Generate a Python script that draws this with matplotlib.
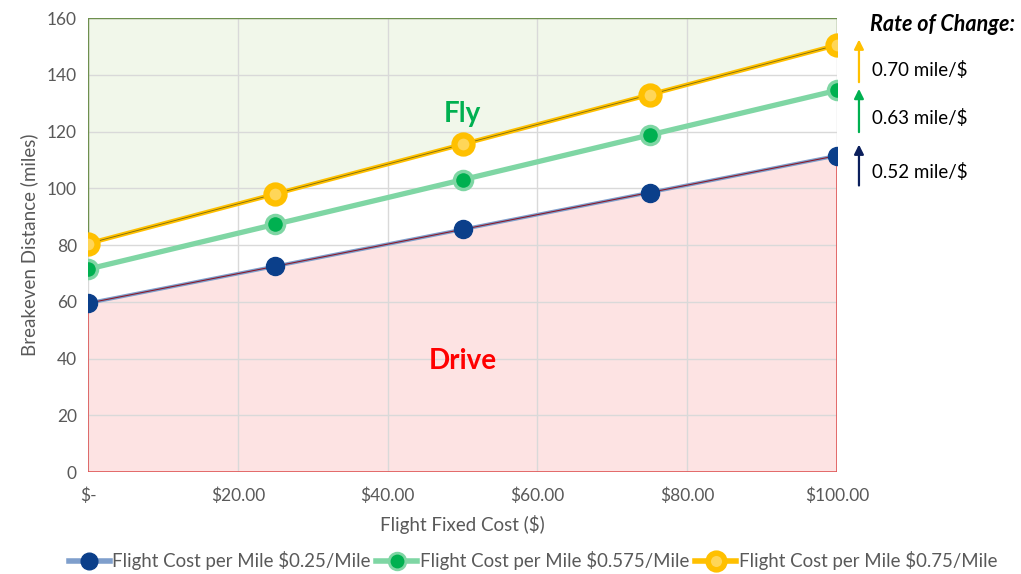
import matplotlib
matplotlib.use("Agg")
import matplotlib.pyplot as plt
import matplotlib.ticker as mticker
from matplotlib.lines import Line2D
from matplotlib.patches import FancyArrowPatch

# ── Data ─────────────────────────────────────────────
fixed_cost = [0, 25, 50, 75, 100]
dist_025 = [59.5, 72.5, 85.5, 98.5, 111.5]
dist_0575 = [71.5, 87.3, 103.0, 118.8, 134.5]
dist_075 = [80.5, 98.0, 115.5, 133.0, 150.5]

series_labels = [
    "Flight Cost per Mile $0.25/Mile",
    "Flight Cost per Mile $0.575/Mile",
    "Flight Cost per Mile $0.75/Mile",
]
rate_labels = ["0.52 mile/$", "0.63 mile/$", "0.70 mile/$"]
x_ticks = [0, 20, 40, 60, 80, 100]
y_ticks = [0, 20, 40, 60, 80, 100, 120, 140, 160]

# ── Style ────────────────────────────────────────────
TEXT_GRAY = "#595959"
GRID = "#D9D9D9"
BLUE_LINE, BLUE_MK = "#7F9FCC", "#0B3F8A"
GREEN_LINE, GREEN_MK = "#7FD6A4", "#00B050"
YELLOW = "#FFC000"
YELLOW_CORE = "#FFD658"

plt.rcParams["font.family"] = ["Lato", "DejaVu Sans"]

fig = plt.figure(figsize=(10.21, 5.74), dpi=100)
ax = fig.add_axes([0.0862, 0.1777, 0.7336, 0.7909])

# Region shading (grid stays visible on top)
ax.fill_between(fixed_cost, dist_075, 160, color="#F1F7EA", zorder=0.3,
                edgecolor="none")
ax.plot([0, 0, 100, 100], [dist_075[0], 160, 160, dist_075[-1]],
        color="#6E8F4E", linewidth=1.0, zorder=1.5)
ax.fill_between(fixed_cost, 0, dist_025, color="#FDE3E3", zorder=0.3,
                edgecolor="none")
ax.plot([0, 0, 100, 100], [dist_025[0], 0, 0, dist_025[-1]],
        color="#E05555", linewidth=1.2, zorder=1.5)

# Series
ax.plot(fixed_cost, dist_025, color=BLUE_LINE, linewidth=2.6, zorder=3)
ax.plot(fixed_cost, dist_025, color="#8B1A2B", linewidth=0.8, zorder=3.1)
ax.plot(fixed_cost, dist_025, linestyle="none", marker="o", markersize=13,
        color=BLUE_MK, markeredgecolor=BLUE_MK, zorder=4)
ax.plot(fixed_cost, dist_0575, color=GREEN_LINE, linewidth=3.8, zorder=3)
ax.plot(fixed_cost, dist_0575, linestyle="none", marker="o", markersize=13,
        color=GREEN_MK, markeredgecolor=GREEN_LINE, markeredgewidth=2.5,
        zorder=4)
ax.plot(fixed_cost, dist_075, color=YELLOW, linewidth=3.2, zorder=3)
ax.plot(fixed_cost, dist_075, color="#7A6A10", linewidth=0.6, zorder=3.1)
ax.plot(fixed_cost, dist_075, linestyle="none", marker="o", markersize=13,
        color=YELLOW_CORE, markeredgecolor=YELLOW, markeredgewidth=4.5,
        zorder=4)

# Region labels
ax.text(50, 126, "Fly", color="#00B050", fontsize=20, fontweight="bold",
        ha="center", va="center", zorder=5)
ax.text(50, 39, "Drive", color="#FF0000", fontsize=20, fontweight="bold",
        ha="center", va="center", zorder=5)

# Axes formatting
ax.set_xlim(0, 100)
ax.set_ylim(0, 160)
ax.set_xticks(x_ticks)
ax.set_yticks(y_ticks)
ax.xaxis.set_major_formatter(
    mticker.FuncFormatter(lambda v, p: "$-" if v == 0 else f"${v:.2f}"))
ax.tick_params(axis="both", length=0, labelsize=12.5, colors=TEXT_GRAY)
ax.tick_params(axis="x", pad=11)
ax.tick_params(axis="y", pad=8)
ax.grid(True, color=GRID, linewidth=1.0)
ax.set_axisbelow(True)
for s in ax.spines.values():
    s.set_visible(False)
ax.set_xlabel("Flight Fixed Cost ($)", fontsize=13.5, color=TEXT_GRAY,
              labelpad=8)
ax.set_ylabel("Breakeven Distance (miles)", fontsize=13.5, color=TEXT_GRAY,
              labelpad=6)

# Rate of change annotations
fig.text(0.994, 0.958, "Rate of Change:", fontsize=15.5, fontweight="bold",
         fontstyle="italic", ha="right", va="center", color="black")
arrows = [
    (0.672, 0.753, "#0B1F5C", rate_labels[0], 0.700),
    (0.765, 0.850, GREEN_MK, rate_labels[1], 0.795),
    (0.852, 0.936, YELLOW, rate_labels[2], 0.878),
]
for y0, y1, col, lab, ty in arrows:
    fig.patches.append(FancyArrowPatch(
        (0.8413, y0), (0.8413, y1), transform=fig.transFigure,
        arrowstyle="-|>", mutation_scale=14, color=col, linewidth=1.6))
    fig.text(0.854, ty, lab, fontsize=13.5, ha="left", va="center",
             color="black")

# Legend
handles = [
    Line2D([], [], color=BLUE_LINE, linewidth=4, marker="o", markersize=12,
           markerfacecolor=BLUE_MK, markeredgecolor=BLUE_MK),
    Line2D([], [], color=GREEN_LINE, linewidth=4, marker="o", markersize=12,
           markerfacecolor=GREEN_MK, markeredgecolor=GREEN_LINE,
           markeredgewidth=2),
    Line2D([], [], color=YELLOW, linewidth=4, marker="o", markersize=12,
           markerfacecolor=YELLOW_CORE, markeredgecolor=YELLOW,
           markeredgewidth=4),
]
fig.legend(handles, series_labels, loc="center", bbox_to_anchor=(0.522, 0.023),
           ncol=3, frameon=False, fontsize=13.4, handlelength=2.2,
           handletextpad=0.15, columnspacing=0.3, labelcolor=TEXT_GRAY)

fig.savefig("out.png", dpi=100, facecolor="white")
